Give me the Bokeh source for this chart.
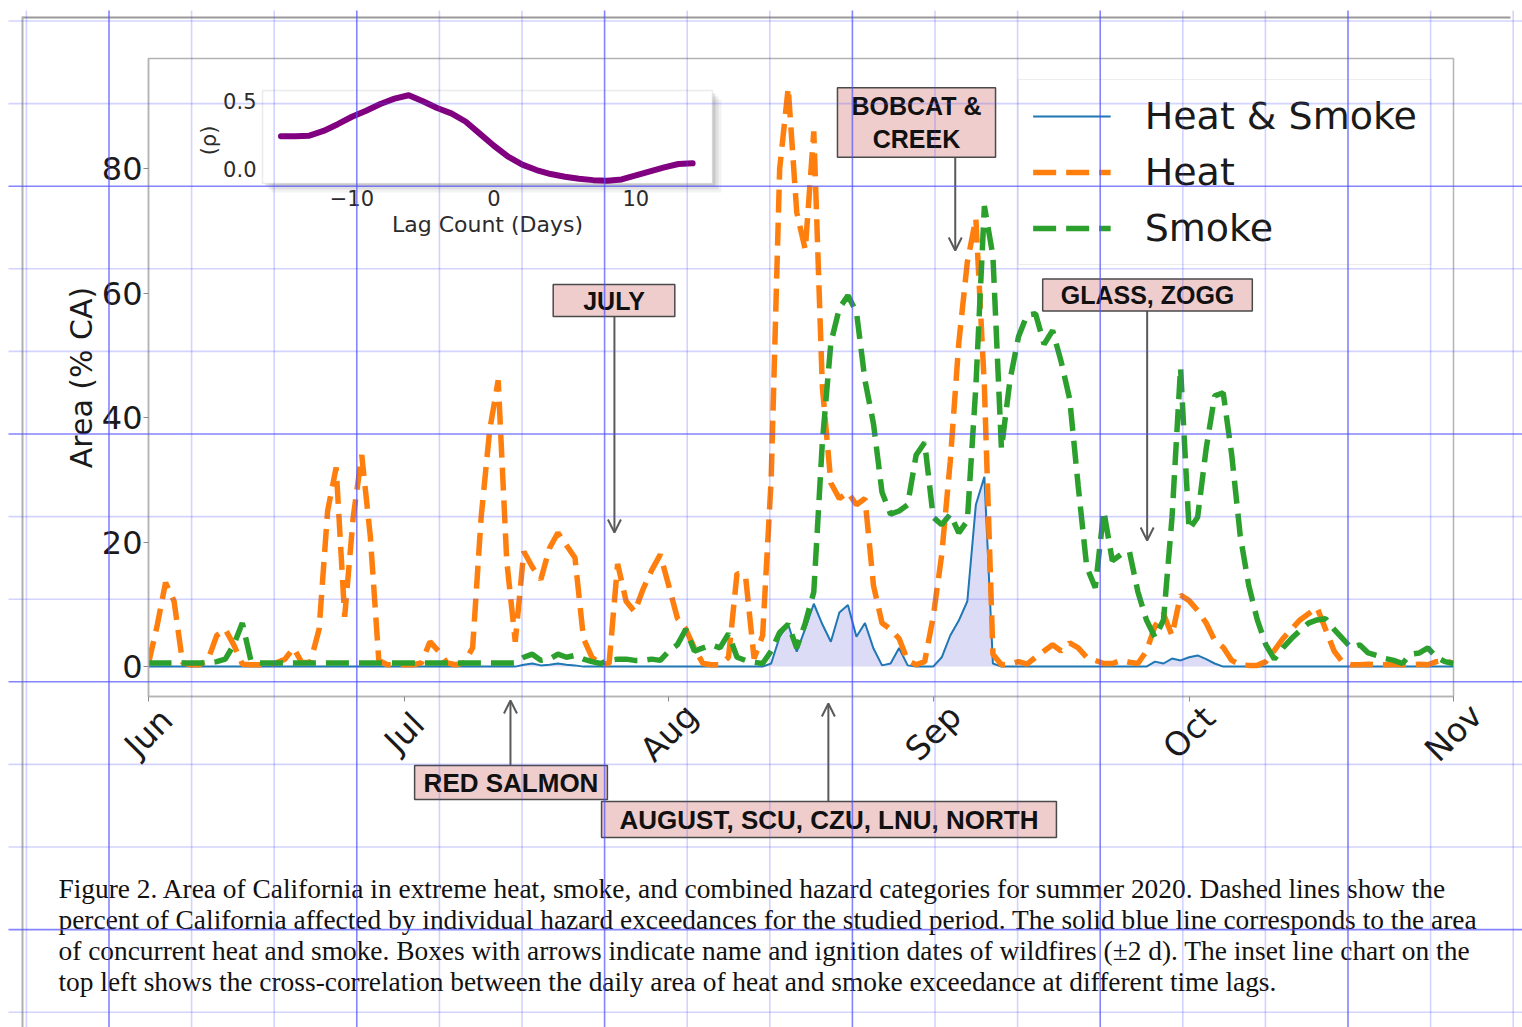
import math
import pandas as pd
from bokeh.plotting import figure
from bokeh.models import (Range1d, FixedTicker, Legend, LegendItem, Label, LabelSet,
                          Arrow, OpenHead, BoxAnnotation, ColumnDataSource)
from bokeh.embed import file_html
from bokeh.resources import INLINE
from bokeh.core.properties import value

# ---------------- data ----------------
start_date = "2020-06-01"

heat = [
    0.5, 6.5, 13.5, 10.5, 0.6, 0.3, 0.3, 1.2, 5, 6,
    3.5, 0.4, 0.3, 0.3, 0.3, 0.6, 1.2, 3, 0.6, 0.8,
    6, 25, 32, 8, 24, 34, 21, 1, 0.3, 0.3,
    0.3, 0.3, 0.6, 4, 2.5, 0.6, 0.3, 0.6, 3, 24,
    38, 46, 17, 4, 18.5, 16, 14, 19, 21.5, 19.5,
    17.5, 4.5, 1.5, 0.4, 0.5, 16.5, 10.5, 8.8, 12.5, 15.5,
    18, 13, 7.8, 6, 3, 0.5, 0.3, 0.3, 1.5, 15,
    14.5, 1.3, 5, 30, 80, 93, 73, 67, 86, 45,
    29.5, 27, 28, 26, 27, 13, 7, 6, 4.5, 1,
    0.3, 0.8, 8, 18, 33, 52, 65, 72, 45, 2,
    0.3, 0.4, 0.8, 0.4, 1.5, 2.5, 3.5, 2.5, 3.8, 3,
    1.5, 1, 0.5, 0.5, 1, 0.7, 0.5, 2.5, 6.5, 8.5,
    5, 11.5, 10.6, 9, 7, 4.2, 3.1, 1, 0.3, 0.2,
    0.2, 0.8, 2.6, 4.5, 6, 7.5, 8.5, 9.5, 6, 2.5,
    0.7, 0.3, 0.3, 0.4, 0.3, 0.3, 0.4, 0.3, 0.3, 0.4,
    0.3, 0.8, 1, 0.5,
]

smoke = [
    0.6, 0.6, 0.6, 0.6, 0.6, 0.6, 0.6, 0.6, 0.8, 1.2,
    3.5, 7, 1, 0.6, 0.6, 0.6, 0.6, 0.6, 0.6, 0.6,
    0.6, 0.6, 0.6, 0.6, 0.6, 0.6, 0.6, 0.6, 0.6, 0.6,
    0.6, 0.6, 0.6, 0.6, 0.6, 0.6, 0.6, 0.6, 0.6, 0.6,
    0.6, 0.6, 0.6, 0.6, 1.5, 2, 1, 1.2, 2, 1.5,
    1.8, 1.2, 0.8, 0.5, 1, 1.2, 1.2, 1, 1, 1.2,
    1, 2.5, 3.5, 6, 2.5, 3, 3.5, 3, 5.3, 1.5,
    1, 0.7, 0.5, 2.5, 5.5, 6.8, 3, 7, 12, 36,
    52, 57.6, 59.6, 57, 46, 39, 28, 24.5, 25, 26,
    34, 36, 24, 22.8, 24.5, 21.5, 23.4, 45, 74, 66,
    35, 46, 53, 56.5, 56.7, 51.8, 54, 49, 43, 29,
    16, 12.7, 25, 17, 18, 18.5, 12, 7.5, 4.7, 7.5,
    24, 48, 22, 24, 35, 43.5, 44, 34, 21, 13,
    7.5, 3.5, 1.2, 3, 4.5, 5.8, 7, 7.5, 7.7, 6,
    4.5, 3, 3.5, 2.2, 1.8, 1.3, 1, 0.5, 2, 2.2,
    3, 1.5, 0.8, 0.5,
]

heat_smoke = [
    0, 0, 0, 0, 0, 0, 0, 0, 0, 0,
    0, 0, 0, 0, 0, 0, 0, 0, 0, 0,
    0, 0, 0, 0, 0, 0, 0, 0, 0, 0,
    0, 0, 0, 0, 0, 0, 0, 0, 0, 0,
    0, 0, 0, 0, 0.3, 0.5, 0.2, 0.3, 0.5, 0.3,
    0.2, 0, 0, 0, 0, 0, 0, 0, 0, 0,
    0, 0, 0, 0, 0, 0, 0, 0, 0, 0,
    0, 0, 0, 0.5, 4.8, 6.8, 2.4, 6.1, 10.1, 6.8,
    4, 8.7, 9.9, 4.8, 7, 2.9, 0.2, 0.5, 3, 0.2,
    0, 0, 0, 1.5, 5, 7.4, 10.5, 26, 30.5, 0.5,
    0, 0, 0, 0, 0, 0, 0, 0, 0, 0,
    0, 0, 0, 0, 0, 0, 0, 0, 0.8, 0.5,
    1.3, 1, 1.5, 1.8, 1.2, 0.5, 0, 0, 0, 0,
    0, 0, 0, 0, 0, 0, 0, 0, 0, 0,
    0, 0, 0, 0, 0, 0, 0, 0, 0, 0,
    0, 0, 0, 0,
]

lags = [-15, -14, -13, -12, -11, -10, -9, -8, -7, -6, -5, -4, -3, -2, -1,
        0, 1, 2, 3, 4, 5, 6, 7, 8, 9, 10, 11, 12, 13, 14]
xcorr = [0.24, 0.24, 0.245, 0.28, 0.33, 0.385, 0.43, 0.48, 0.52, 0.545,
         0.50, 0.45, 0.41, 0.35, 0.26, 0.17, 0.09, 0.03, -0.01, -0.04,
         -0.06, -0.075, -0.085, -0.09, -0.08, -0.05, -0.02, 0.01, 0.035, 0.04]

month_ticks = ["2020-06-01", "2020-07-01", "2020-08-01", "2020-09-01", "2020-10-01", "2020-11-01"]
month_labels = ["Jun", "Jul", "Aug", "Sep", "Oct", "Nov"]
y_ticks = [0, 20, 40, 60, 80]
inset_xticks = [-10, 0, 10]
inset_xtick_labels = ["\u221210", "0", "10"]
inset_yticks = [0.0, 0.5]
inset_ytick_labels = ["0.0", "0.5"]
legend_labels = ["Heat & Smoke", "Heat", "Smoke"]

fire_names = ["RED SALMON", "JULY", "AUGUST, SCU, CZU, LNU, NORTH", "BOBCAT &\nCREEK", "GLASS, ZOGG"]
fire_dates = ["2020-07-13 10:30", "2020-07-25 15:00", "2020-08-19 17:00", "2020-09-03 14:00", "2020-09-26 02:00"]

caption_lines = [
    "Figure 2. Area of California in extreme heat, smoke, and combined hazard categories for summer 2020. Dashed lines show the",
    "percent of California affected by individual hazard exceedances for the studied period. The solid blue line corresponds to the area",
    "of concurrent heat and smoke. Boxes with arrows indicate name and ignition dates of wildfires (\u00b12 d). The inset line chart on the",
    "top left shows the cross-correlation between the daily area of heat and smoke exceedance at different time lags.",
]

# ---------------- layout (page pixel geometry) ----------------
W, H = 1522, 1027
FL, FR, FT, FB = 148, 1453, 58, 696           # main frame on page
Y0, Y1 = -4.8, 97.7                           # main y limits
INSET = (262, 712, 90, 183)                   # inset box on page (l, r, t, b)
inset_xlim = (-16.3, 15.4)
inset_ylim = (-0.11, 0.58)


def ms(t):
    return pd.Timestamp(t).value / 1e6


X0, X1 = ms(month_ticks[0]), ms(month_ticks[-1])


def vy(py):          # page y -> main data value
    return Y0 + (FB - py) / (FB - FT) * (Y1 - Y0)


def vx(px):          # page x -> main data time (ms)
    return X0 + (px - FL) / (FR - FL) * (X1 - X0)


def mx(px):          # page -> main-frame screen units
    return px - FL


def my(py):
    return FB - py


dates = pd.date_range(start_date, periods=len(heat), freq="D")
src = ColumnDataSource(dict(date=dates, heat=heat, smoke=smoke, both=heat_smoke))

# ================= main chart =================
p = figure(width=W, height=H, x_axis_type="datetime",
           x_range=Range1d(pd.Timestamp(month_ticks[0]), pd.Timestamp(month_ticks[-1])),
           y_range=Range1d(Y0, Y1),
           output_backend="svg", toolbar_location=None,
           min_border_left=FL, min_border_right=W - FR,
           min_border_top=FT, min_border_bottom=H - FB)
p.background_fill_color = "white"
p.border_fill_color = "white"
p.outline_line_color = "#b4b4b4"
p.outline_line_width = 1.5
p.grid.visible = False

kx = (INSET[1] - INSET[0]) / (inset_xlim[1] - inset_xlim[0])
ky = (INSET[3] - INSET[2]) / (inset_ylim[1] - inset_ylim[0])
p.extra_x_ranges = {"lag": Range1d(inset_xlim[0] - (INSET[0] - FL) / kx, inset_xlim[1] + (FR - INSET[1]) / kx)}
p.extra_y_ranges = {"rho": Range1d(inset_ylim[0] - (FB - INSET[3]) / ky, inset_ylim[1] + (INSET[2] - FT) / ky)}

p.xaxis.ticker = FixedTicker(ticks=[ms(t) for t in month_ticks])
p.xaxis.major_label_text_color = None
p.yaxis.ticker = FixedTicker(ticks=y_ticks)
for ax in (p.xaxis, p.yaxis):
    ax.axis_line_color = "#b4b4b4"
    ax.axis_line_width = 1.5
    ax.major_tick_line_color = "#8a8a8a"
    ax.major_tick_out = 5
    ax.major_tick_in = 0
    ax.minor_tick_line_color = None
p.yaxis.major_label_text_font = "DejaVu Sans"
p.yaxis.major_label_text_font_size = "32px"
p.yaxis.major_label_text_color = "#1a1a1a"
p.yaxis.major_label_standoff = 1
p.yaxis.axis_label = "Area (% CA)"
p.yaxis.axis_label_text_font = "DejaVu Sans"
p.yaxis.axis_label_text_font_size = "30px"
p.yaxis.axis_label_text_font_style = "normal"
p.yaxis.axis_label_text_color = "#1a1a1a"
p.yaxis.axis_label_standoff = 0

p.varea(x="date", y1=0, y2="both", source=src, fill_color="#dcdcf7", fill_alpha=1.0)
r_both = p.line("date", "both", source=src, line_color="#1f77b4", line_width=2)
r_heat = p.line("date", "heat", source=src, line_color="#ff7f0e", line_width=5.5, line_dash="23 10")
r_smoke = p.line("date", "smoke", source=src, line_color="#2ca02c", line_width=5.5, line_dash="23 10")

legend = Legend(items=[LegendItem(label=legend_labels[0], renderers=[r_both]),
                       LegendItem(label=legend_labels[1], renderers=[r_heat]),
                       LegendItem(label=legend_labels[2], renderers=[r_smoke])],
                location="top_right", margin=21, padding=14, spacing=12,
                glyph_width=78, glyph_height=44, label_height=44, label_standoff=34,
                label_text_font="DejaVu Sans", label_text_font_size="38px",
                label_text_color="#1a1a1a", border_line_color="#dcdcdc", border_line_width=1.5,
                background_fill_color="white", background_fill_alpha=0.85)
p.add_layout(legend)

# inset
for off, a in ((9, 0.05), (6, 0.07), (3, 0.10)):
    p.add_layout(BoxAnnotation(left=mx(INSET[0] + off), right=mx(INSET[1] + off),
                               top=my(INSET[2] + off), bottom=my(INSET[3] + off),
                               left_units="screen", right_units="screen",
                               top_units="screen", bottom_units="screen",
                               fill_color="black", fill_alpha=a, line_color=None, level="underlay"))
p.add_layout(BoxAnnotation(left=inset_xlim[0], right=inset_xlim[1], bottom=inset_ylim[0], top=inset_ylim[1],
                           x_range_name="lag", y_range_name="rho", fill_color="white", fill_alpha=1.0,
                           line_color="#bdbdbd", line_width=1.5, level="underlay"))
p.line(lags, xcorr, x_range_name="lag", y_range_name="rho", line_color="#800080",
       line_width=6, line_cap="round", line_join="round")
p.text(x=[inset_xlim[0]] * len(inset_yticks), y=inset_yticks, text=inset_ytick_labels,
       x_range_name="lag", y_range_name="rho", x_offset=-6, text_align="right", text_baseline="middle",
       text_font=value("DejaVu Sans"), text_font_size="21px", text_color="#2b2b2b")
p.text(x=inset_xticks, y=[inset_ylim[0]] * len(inset_xticks), text=inset_xtick_labels,
       x_range_name="lag", y_range_name="rho", y_offset=6, text_align="center", text_baseline="top",
       text_font=value("DejaVu Sans"), text_font_size="21px", text_color="#2b2b2b")
p.add_layout(Label(x=mx(208), y=my(140), x_units="screen", y_units="screen", text="(\u03c1)",
                   angle=math.pi / 2, text_align="center", text_baseline="middle",
                   text_font="DejaVu Sans", text_font_size="21px", text_color="#2b2b2b"))
p.add_layout(Label(x=mx((INSET[0] + INSET[1]) / 2), y=my(224), x_units="screen", y_units="screen",
                   text="Lag Count (Days)", text_align="center", text_baseline="middle",
                   text_font="DejaVu Sans", text_font_size="22px", text_color="#2b2b2b"))

# ================= page overlay (same time/value scale, whole page) =================
o = figure(width=W, height=H, x_range=Range1d(vx(0), vx(W)), y_range=Range1d(vy(H), vy(0)),
           x_axis_location=None, y_axis_location=None, output_backend="svg", toolbar_location=None,
           min_border=0, min_border_left=0, min_border_right=0, min_border_top=0, min_border_bottom=0)
o.background_fill_alpha = 0
o.border_fill_alpha = 0
o.outline_line_color = None
o.grid.visible = False
o.styles = {"position": "absolute", "left": "0px", "top": "0px"}


def ox(px):
    return px


def oy(py):
    return H - py


month_src = ColumnDataSource(dict(x=pd.to_datetime(month_ticks), text=month_labels))
o.add_layout(LabelSet(x="x", y=oy(732), y_units="screen", text="text", source=month_src,
                      angle=math.pi / 4, text_align="center", text_baseline="middle",
                      text_font=value("DejaVu Sans"), text_font_size="33px", text_color="#1a1a1a"))

# fire annotations: (box centre x, box centre y, pad x, pad y, font px, arrow start y, arrow end y)
fire_layout = [
    (510.5, 782, 9, 2, 26, 766, 700),
    (613.5, 300, 30, 2, 25, 316, 532),
    (828.5, 819, 18, 3, 26, 802, 703),
    (916, 122, 14, 4, 25, 156, 250),
    (1147, 294.5, 18, 2, 25, 310, 540),
]
for name, d, (cx, cy, px, py, fs, ys, ye) in zip(fire_names, fire_dates, fire_layout):
    xd = ms(d)
    o.add_layout(Arrow(x_start=xd, y_start=vy(ys), x_end=xd, y_end=vy(ye),
                       line_color="#5a5a5a", line_width=2,
                       end=OpenHead(size=13, line_color="#5a5a5a", line_width=2)))
    o.add_layout(Label(x=ox(cx), y=oy(cy), x_units="screen", y_units="screen", text=name,
                       text_align="center", text_baseline="middle",
                       text_font="Liberation Sans", text_font_style="bold", text_font_size=f"{fs}px",
                       text_color="#111111", background_fill_color="#efcdcd", background_fill_alpha=1.0,
                       border_line_color="#4a4a4a", border_line_width=1.5,
                       padding=dict(left=px, right=px, top=py, bottom=py)))

for i, line in enumerate(caption_lines):
    o.add_layout(Label(x=ox(58), y=oy(888 + 31 * i), x_units="screen", y_units="screen", text=line,
                       text_align="left", text_baseline="middle", text_font="Liberation Serif",
                       text_font_size="27.4px", text_color="#111111"))


def pbox(l, r, t, b, color, alpha, level="annotation"):
    o.add_layout(BoxAnnotation(left=ox(l), right=ox(r), top=oy(t), bottom=oy(b),
                               left_units="screen", right_units="screen", top_units="screen",
                               bottom_units="screen", fill_color=color, fill_alpha=alpha,
                               line_color=None, level=level))


# page border
pbox(22, 1510, 16, 18, "#9a9a9a", 1.0)
pbox(21, 23, 16, H, "#b0b0b0", 1.0)

# graph-paper overlay
for k in range(19):
    xk = 25.9 + 82.6 * k
    pbox(xk - 0.8, xk + 0.8, 10, H, "#5050ff", 0.7 if k % 3 == 1 else 0.25, "overlay")
for k in range(13):
    yk = 20.5 + 82.6 * k
    pbox(8, W, yk - 0.8, yk + 0.8, "#5050ff", 0.7 if k % 3 == 2 else 0.25, "overlay")

open("out.html", "w").write(file_html([p, o], INLINE))
